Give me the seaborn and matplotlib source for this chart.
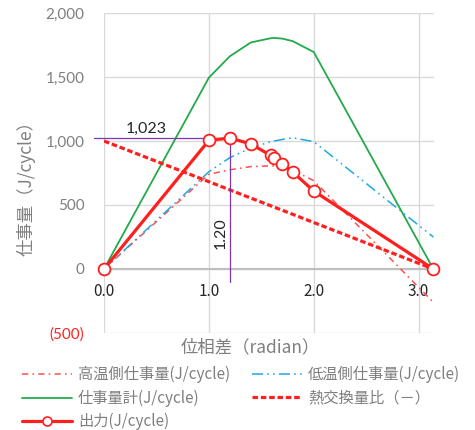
import matplotlib
matplotlib.use("Agg")
import matplotlib.pyplot as plt
import numpy as np
import pandas as pd
import seaborn as sns
from matplotlib.lines import Line2D

# Phase difference between the two pistons (radian)
phase = [0.0, 1.0, 1.2, 1.4, 1.59, 1.62, 1.7, 1.8, 2.0, 3.14]

# Work per cycle on each side (J/cycle)
work_high = [0, 740, 775, 800, 806, 805, 797, 772, 690, -260]
work_low = [0, 760, 870, 945, 995, 1000, 1012, 1025, 995, 250]
work_total = [0, 1495, 1662, 1770, 1803, 1805, 1800, 1780, 1695, 0]
# Heat exchange ratio, plotted on the same scale (x1000)
heat_ratio = [1000, 682, 618, 554, 494, 484, 459, 427, 363, 0]
# Output (J/cycle)
output = [0, 1005, 1023, 977, 887, 868, 823, 757, 609, 0]

y_ticks = [-500, 0, 500, 1000, 1500, 2000]
y_tick_labels = ["(500)", "0", "500", "1,000", "1,500", "2,000"]
x_ticks = [0, 1, 2, 3]
x_tick_labels = ["0.0", "1.0", "2.0", "3.0"]

labels = {
    "high": "高温側仕事量(J/cycle)",
    "low": "低温側仕事量(J/cycle)",
    "total": "仕事量計(J/cycle)",
    "ratio": "熱交換量比（－）",
    "out": "出力(J/cycle)",
}

df = pd.DataFrame({
    "phase": phase,
    "high": work_high,
    "low": work_low,
    "total": work_total,
    "ratio": heat_ratio,
    "out": output,
})

sns.set_theme(style="white")
plt.rcParams["font.family"] = ["Noto Sans CJK JP", "DejaVu Sans"]
plt.rcParams["lines.scale_dashes"] = False

RED = "#FF1F1F"
RED_LIGHT = "#FF4F4F"
BLUE = "#1FA8E6"
GREEN = "#22AA4C"
PURPLE = "#7A35B0"
GRAY_TXT = "#7F7F7F"

fig = plt.figure(figsize=(4.75, 4.30), dpi=100)
ax = fig.add_axes([104 / 475, 1 - 333 / 430, 329.5 / 475, 320 / 430])

styles = {
    "high": dict(color=RED_LIGHT, lw=1.1, linestyle=(0, (4.5, 3, 1.2, 3))),
    "low": dict(color=BLUE, lw=1.1, linestyle=(0, (8, 3, 1.2, 3, 1.2, 3))),
    "total": dict(color=GREEN, lw=1.3, linestyle="-"),
    "ratio": dict(color=RED, lw=2.3, linestyle=(0, (4, 2))),
    "out": dict(color=RED, lw=2.3, linestyle="-", marker="o", markersize=8.5,
                markerfacecolor="white", markeredgecolor=RED, markeredgewidth=1.3),
}

for key in ["high", "low", "total", "ratio"]:
    sns.lineplot(data=df, x="phase", y=key, ax=ax, legend=False,
                 sort=False, estimator=None, **styles[key])

# Reference lines at the output peak
i_peak = int(np.argmax(output))
peak_x = phase[i_peak]
peak_y = output[i_peak]
ax.plot([-0.095, peak_x], [peak_y, peak_y], color=PURPLE, lw=0.9, clip_on=False, zorder=3)
ax.plot([peak_x, peak_x], [peak_y, -102], color=PURPLE, lw=0.9, zorder=3)

sns.lineplot(data=df, x="phase", y="out", ax=ax, legend=False,
             sort=False, estimator=None, zorder=5, clip_on=False, **styles["out"])

ax.text(0.40, peak_y + 15, f"{peak_y:,}", ha="center", va="bottom",
        fontsize=11.5, color="#262626", family=["Lato", "DejaVu Sans"])
ax.text(peak_x - 0.09, 277, f"{peak_x:.2f}", ha="center", va="center", rotation=90,
        fontsize=11.5, color="#262626", family=["Lato", "DejaVu Sans"])

ax.set_xlim(0, 3.1416)
ax.set_ylim(-500, 2000)
ax.set_xticks(x_ticks)
ax.set_xticklabels(x_tick_labels)
ax.set_yticks(y_ticks)
ax.set_yticklabels(y_tick_labels)
ax.set_xlabel("")
ax.set_ylabel("")

for lab in ax.get_xticklabels() + ax.get_yticklabels():
    lab.set_family(["Lato", "DejaVu Sans"])
    lab.set_fontsize(11)
    lab.set_color(GRAY_TXT)
ax.get_yticklabels()[0].set_color("#FF2020")

ax.tick_params(axis="x", length=0, pad=10)
ax.tick_params(axis="y", length=0, pad=14)

ax.grid(True, color="#D9D9D9", lw=1.0)
ax.set_axisbelow(True)
for side in ["top", "right", "left"]:
    ax.spines[side].set_visible(False)
ax.spines["bottom"].set_position(("data", 0))
ax.spines["bottom"].set_color("#BFBFBF")
ax.spines["bottom"].set_linewidth(1.5)
ax.spines["bottom"].set_zorder(1)

fig.text(26 / 475, 1 - 184 / 430, "仕事量（J/cycle）", rotation=90,
         ha="center", va="center", fontsize=12.5, color=GRAY_TXT)
fig.text(250 / 475, 1 - 347 / 430, "位相差（radian）",
         ha="center", va="center", fontsize=12.5, color=GRAY_TXT)

legend_styles = dict(styles)
legend_styles["out"] = dict(styles["out"], markersize=6.5, markeredgewidth=1.2)
order = ["high", "total", "out", "low", "ratio"]
handles = [Line2D([], [], **legend_styles[k]) for k in order]
texts = [labels[k] for k in order]
leg = fig.legend(handles, texts, ncol=2, loc="upper left",
                 bbox_to_anchor=(21.7 / 475, 1 - 366 / 430), frameon=False,
                 fontsize=11, borderpad=0, borderaxespad=0, handlelength=3.3,
                 handletextpad=0.37, columnspacing=1.45, labelspacing=0.42)
for t in leg.get_texts():
    t.set_color(GRAY_TXT)

fig.savefig("out.png", dpi=100)
